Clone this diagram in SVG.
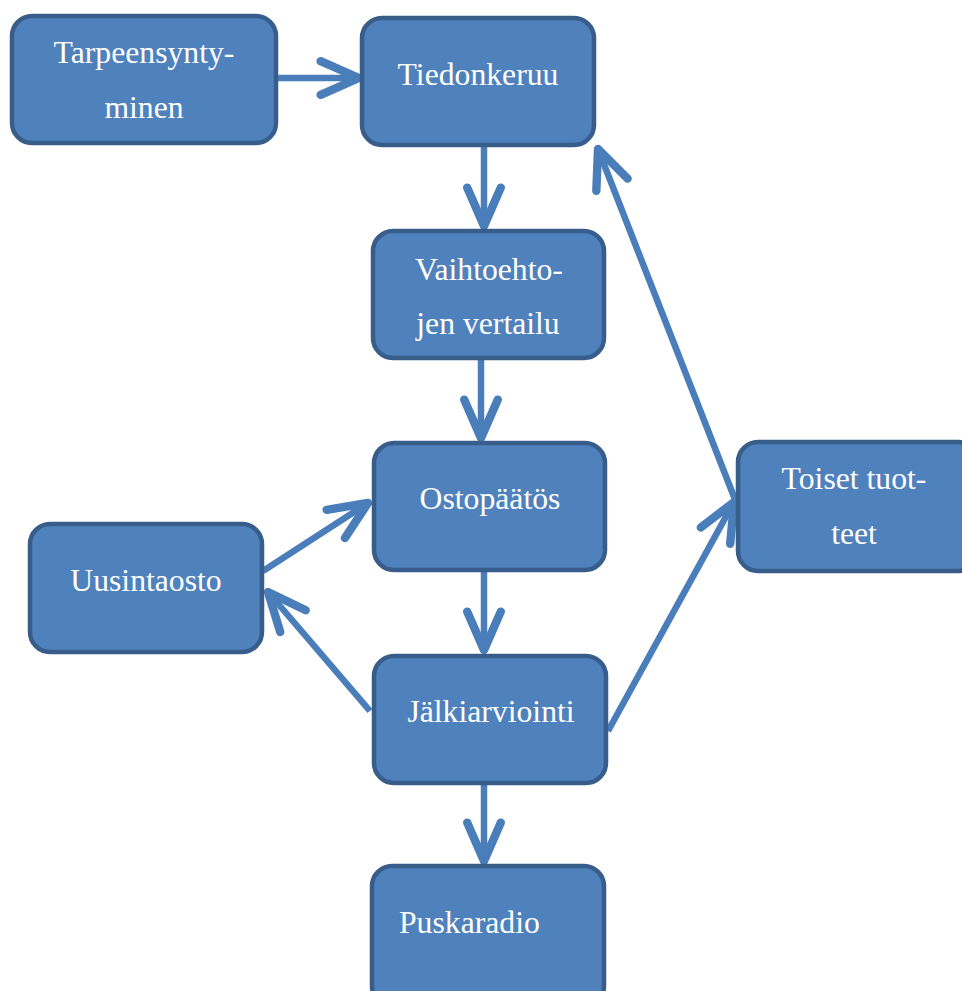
<svg xmlns="http://www.w3.org/2000/svg" width="962" height="991" viewBox="0 0 962 991">
<style>
.node rect{fill:#4f81bd;stroke:#385d8a;stroke-width:4.5}
.node text{font-family:"Liberation Serif","Times New Roman",serif;font-size:31.7px;fill:#ffffff;text-anchor:middle}
.conn line{stroke:#4a7ebb;stroke-width:6.5;fill:none}
</style>
<defs>
<marker id="ah" markerUnits="userSpaceOnUse" orient="auto" refX="0" refY="0" markerWidth="60" markerHeight="60" viewBox="-40 -25 50 50" overflow="visible">
<path d="M -32 -14 L 0 0 L -32 14" fill="none" stroke="#4a7ebb" stroke-width="7" stroke-linecap="round" stroke-linejoin="round"/>
</marker>
</defs>
<rect width="962" height="991" fill="#ffffff"/>
<g class="conn">
<line x1="278" y1="78" x2="359" y2="78" marker-end="url(#ah)"/>
<line x1="484" y1="147" x2="484" y2="226" marker-end="url(#ah)"/>
<line x1="481" y1="360" x2="481" y2="438" marker-end="url(#ah)"/>
<line x1="484" y1="572" x2="484" y2="650" marker-end="url(#ah)"/>
<line x1="484" y1="785" x2="484" y2="861" marker-end="url(#ah)"/>
<line x1="263" y1="571" x2="368" y2="503" marker-end="url(#ah)"/>
<line x1="370" y1="711" x2="268" y2="592" marker-end="url(#ah)"/>
<line x1="608" y1="731" x2="734" y2="502" marker-end="url(#ah)"/>
<line x1="736" y1="502" x2="598" y2="149" marker-end="url(#ah)"/>
</g>
<g id="n1" class="node"><rect x="12" y="16" width="264" height="127" rx="20"/><text x="144" y="63">Tarpeensynty-</text><text x="144" y="118">minen</text></g>
<g id="n2" class="node"><rect x="362" y="18" width="232" height="127" rx="20"/><text x="478" y="85">Tiedonkeruu</text></g>
<g id="n3" class="node"><rect x="373" y="231" width="231" height="127" rx="20"/><text x="489" y="280">Vaihtoehto-</text><text x="488" y="334">jen vertailu</text></g>
<g id="n4" class="node"><rect x="374" y="443" width="231" height="127" rx="20"/><text x="490" y="509">Ostopäätös</text></g>
<g id="n5" class="node"><rect x="30" y="524" width="232" height="128" rx="20"/><text x="146" y="591">Uusintaosto</text></g>
<g id="n6" class="node"><rect x="374" y="656" width="232" height="127" rx="20"/><text x="491" y="722">Jälkiarviointi</text></g>
<g id="n7" class="node"><rect x="372" y="866" width="232" height="140" rx="20"/><text x="399" y="933" style="text-anchor:start">Puskaradio</text></g>
<g id="n8" class="node"><rect x="738" y="442" width="240" height="129" rx="20"/><text x="854" y="489">Toiset tuot-</text><text x="854" y="544">teet</text></g>
</svg>
